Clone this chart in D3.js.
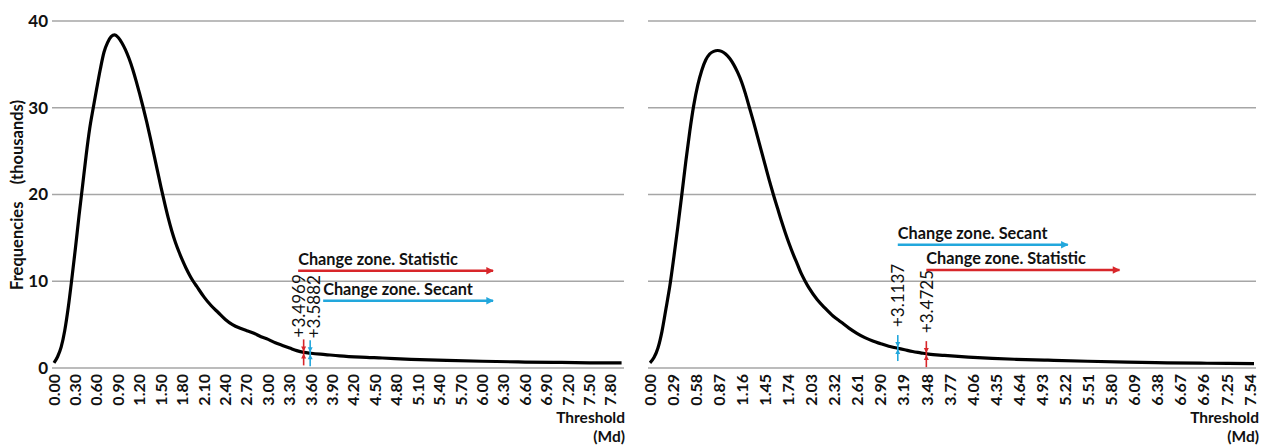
<!DOCTYPE html>
<html>
<head>
<meta charset="utf-8">
<script src="https://cdn.jsdelivr.net/npm/d3@7/dist/d3.min.js"></script>
<style>
  body { margin: 0; background: #fff; }
  svg { display: block; font-family: Lato, "Open Sans", sans-serif; }
</style>
</head>
<body>
<div id="chart"></div>
<script>
// left panel data (frequencies in thousands)
var leftThreshold = [0.00,0.05,0.10,0.15,0.20,0.25,0.30,0.35,0.40,0.45,0.50,0.55,0.60,0.65,0.70,0.75,0.80,0.85,0.90,0.95,
  1.00,1.05,1.10,1.15,1.20,1.25,1.30,1.35,1.40,1.45,1.50,1.55,1.60,1.65,1.70,1.75,1.80,1.85,1.90,1.95,
  2.00,2.10,2.20,2.30,2.40,2.50,2.60,2.70,2.80,2.90,3.00,3.10,3.20,3.30,3.40,3.50,3.60,3.80,4.00,4.30,
  4.60,5.00,5.50,6.00,6.50,7.00,7.50,7.95];
var leftFreq = [0.6,1.3,2.4,4.3,7.0,10.3,13.8,17.5,21.0,24.5,27.6,30.0,32.3,34.5,36.4,37.5,38.2,38.4,38.1,37.5,
  36.7,35.7,34.5,33.1,31.6,30.0,28.3,26.5,24.6,22.7,20.8,19.0,17.3,15.8,14.5,13.4,12.4,11.5,10.7,10.0,
  9.4,8.2,7.2,6.4,5.6,5.0,4.6,4.3,4.0,3.6,3.3,2.9,2.6,2.3,2.0,1.8,1.7,1.55,1.4,1.25,
  1.15,1.0,0.88,0.78,0.7,0.65,0.6,0.58];

// right panel data
var rightThreshold = [0.00,0.05,0.10,0.15,0.20,0.25,0.30,0.35,0.40,0.45,0.50,0.55,0.60,0.65,0.70,0.75,0.80,0.85,0.90,0.95,
  1.00,1.05,1.10,1.15,1.20,1.25,1.30,1.35,1.40,1.45,1.50,1.55,1.60,1.65,1.70,1.75,1.80,1.85,1.90,1.95,
  2.00,2.10,2.20,2.30,2.40,2.50,2.60,2.70,2.80,2.90,3.00,3.10,3.20,3.30,3.40,3.50,3.70,4.00,4.30,4.60,
  5.00,5.50,6.00,6.50,7.00,7.59];
var rightFreq = [0.6,1.2,2.3,4.2,6.8,9.5,12.8,16.3,20.0,23.8,27.3,30.3,32.6,34.3,35.5,36.2,36.5,36.6,36.5,36.2,
  35.7,35.0,34.1,33.0,31.6,30.0,28.4,26.7,25.0,23.3,21.6,20.0,18.5,17.0,15.6,14.3,13.1,12.0,10.9,10.0,
  9.2,7.9,6.9,6.0,5.3,4.6,4.0,3.5,3.1,2.8,2.5,2.3,2.1,1.9,1.75,1.6,1.45,1.25,1.1,1.0,
  0.9,0.78,0.68,0.6,0.55,0.5];

var leftTicks = ['0.00','0.30','0.60','0.90','1.20','1.50','1.80','2.10','2.40','2.70','3.00','3.30','3.60','3.90',
  '4.20','4.50','4.80','5.10','5.40','5.70','6.00','6.30','6.60','6.90','7.20','7.50','7.80'];
var rightTicks = ['0.00','0.29','0.58','0.87','1.16','1.45','1.74','2.03','2.32','2.61','2.90','3.19','3.48','3.77',
  '4.06','4.35','4.64','4.93','5.22','5.51','5.80','6.09','6.38','6.67','6.96','7.25','7.54'];
var yTicks = [0, 10, 20, 30, 40];

// change thresholds: value, curve height, label
var leftMarkers = [[3.4969, 1.8, '+3.4969', 'stat'], [3.5882, 1.7, '+3.5882', 'sec']];
var rightMarkers = [[3.1137, 2.3, '+3.1137', 'sec'], [3.4725, 1.6, '+3.4725', 'stat']];
// change zones: start, end, level, text
var leftZones = [[3.42, 6.15, 11.2, 'Change zone. Statistic', 'stat'], [3.77, 6.15, 7.75, 'Change zone. Secant', 'sec']];
var rightZones = [[3.1137, 5.25, 14.2, 'Change zone. Secant', 'sec'], [3.4725, 5.9, 11.3, 'Change zone. Statistic', 'stat']];

var colors = { stat: '#d8262a', sec: '#22a7dc' };

var W = 1261, H = 445;
var svg = d3.select('#chart').append('svg')
  .attr('width', W).attr('height', H);

var defs = svg.append('defs');
Object.keys(colors).forEach(function(k) {
  defs.append('marker')
    .attr('id', 'arr-' + k)
    .attr('viewBox', '0 0 10 10')
    .attr('refX', 9).attr('refY', 5)
    .attr('markerWidth', 3.4).attr('markerHeight', 3)
    .attr('orient', 'auto')
    .attr('markerUnits', 'strokeWidth')
    .append('path')
      .attr('d', 'M0,0L10,5L0,10z')
      .attr('fill', colors[k]);
});

var y = d3.scaleLinear().domain([0, 40]).range([368, 21]);

function drawPanel(opt) {
  var x = d3.scaleLinear().domain([0, opt.max]).range(opt.range);
  var g = svg.append('g');

  // gridlines
  g.selectAll('line.grid')
    .data(yTicks)
    .enter().append('line')
      .attr('class', 'grid')
      .attr('x1', opt.range[0] - 2)
      .attr('x2', opt.gridEnd)
      .attr('y1', y).attr('y2', y)
      .attr('stroke', '#a6a6a6')
      .attr('stroke-width', 1.5);

  // x tick labels
  g.selectAll('text.tick')
    .data(opt.ticks)
    .enter().append('text')
      .attr('class', 'tick')
      .attr('transform', function(d) { return 'translate(' + x(+d) + ',374) rotate(-90)'; })
      .attr('dy', '0.35em')
      .attr('text-anchor', 'end')
      .attr('font-size', 16)
      .attr('font-weight', 700)
      .attr('fill', '#111')
      .text(String);

  // curve
  var pts = opt.xs.map(function(d, i) { return [d, opt.ys[i]]; });
  g.append('path')
    .datum(pts)
    .attr('fill', 'none')
    .attr('stroke', '#000')
    .attr('stroke-width', 3.2)
    .attr('stroke-linejoin', 'round')
    .attr('d', d3.line()
      .x(function(d) { return x(d[0]); })
      .y(function(d) { return y(d[1]); })
      .curve(d3.curveMonotoneX));

  // threshold markers
  opt.markers.forEach(function(m, i) {
    var mx = x(m[0]), my = y(m[1]), c = colors[m[3]];
    g.append('line')
      .attr('x1', mx).attr('x2', mx)
      .attr('y1', my - 13).attr('y2', my + 13)
      .attr('stroke', c).attr('stroke-width', 1.6);
    g.append('path')
      .attr('d', 'M' + (mx - 2.5) + ',' + (my - 6) + 'L' + (mx + 2.5) + ',' + (my - 6) + 'L' + mx + ',' + (my - 1) + 'z')
      .attr('fill', c);
    g.append('path')
      .attr('d', 'M' + (mx - 2.5) + ',' + (my + 6) + 'L' + (mx + 2.5) + ',' + (my + 6) + 'L' + mx + ',' + (my + 1) + 'z')
      .attr('fill', c);
    g.append('text')
      .attr('transform', 'translate(' + (mx + opt.labelShift[i]) + ',' + (my - opt.labelGap) + ') rotate(-90)')
      .attr('dy', '0.35em')
      .attr('font-size', 17)
      .attr('fill', '#111')
      .text(m[2]);
  });

  // change zones
  opt.zones.forEach(function(z) {
    var zx = x(z[0]), zy = y(z[2]);
    g.append('line')
      .attr('x1', zx).attr('x2', x(z[1]))
      .attr('y1', zy).attr('y2', zy)
      .attr('stroke', colors[z[4]])
      .attr('stroke-width', 2.5)
      .attr('marker-end', 'url(#arr-' + z[4] + ')');
    g.append('text')
      .attr('x', zx).attr('y', zy - 6)
      .attr('font-size', 16.3)
      .attr('font-weight', 700)
      .attr('fill', '#111')
      .text(z[3]);
  });

  // axis title, two lines
  g.append('text')
    .attr('x', opt.titleX).attr('y', 423)
    .attr('text-anchor', 'end')
    .attr('font-size', 15.5)
    .attr('font-weight', 700)
    .attr('fill', '#111')
    .text('Threshold');
  g.append('text')
    .attr('x', opt.titleX).attr('y', 441.6)
    .attr('text-anchor', 'end')
    .attr('font-size', 15.5)
    .attr('font-weight', 700)
    .attr('fill', '#111')
    .text('(Md)');
}

drawPanel({ max: 7.97, range: [54, 623], gridEnd: 624, ticks: leftTicks, xs: leftThreshold, ys: leftFreq,
  markers: leftMarkers, zones: leftZones, titleX: 625, labelShift: [-5, 4], labelGap: 15 });
drawPanel({ max: 7.59, range: [650, 1254], gridEnd: 1256, ticks: rightTicks, xs: rightThreshold, ys: rightFreq,
  markers: rightMarkers, zones: rightZones, titleX: 1259, labelShift: [0, 1], labelGap: 21 });

// y axis labels (left panel only)
svg.selectAll('text.ylab')
  .data(yTicks)
  .enter().append('text')
    .attr('class', 'ylab')
    .attr('x', 48)
    .attr('y', y)
    .attr('dy', '0.35em')
    .attr('text-anchor', 'end')
    .attr('font-size', 17)
    .attr('font-weight', 700)
    .attr('fill', '#111')
    .text(String);

var yt = svg.append('g').attr('transform', 'translate(17,0) rotate(-90)');
yt.append('text').attr('x', -290).attr('dy', '0.35em')
  .attr('font-size', 16.5).attr('font-weight', 700).attr('fill', '#111')
  .text('Frequencies');
yt.append('text').attr('x', -100).attr('dy', '0.35em').attr('text-anchor', 'end')
  .attr('font-size', 16.5).attr('font-weight', 700).attr('fill', '#111')
  .text('(thousands)');
</script>
</body>
</html>
